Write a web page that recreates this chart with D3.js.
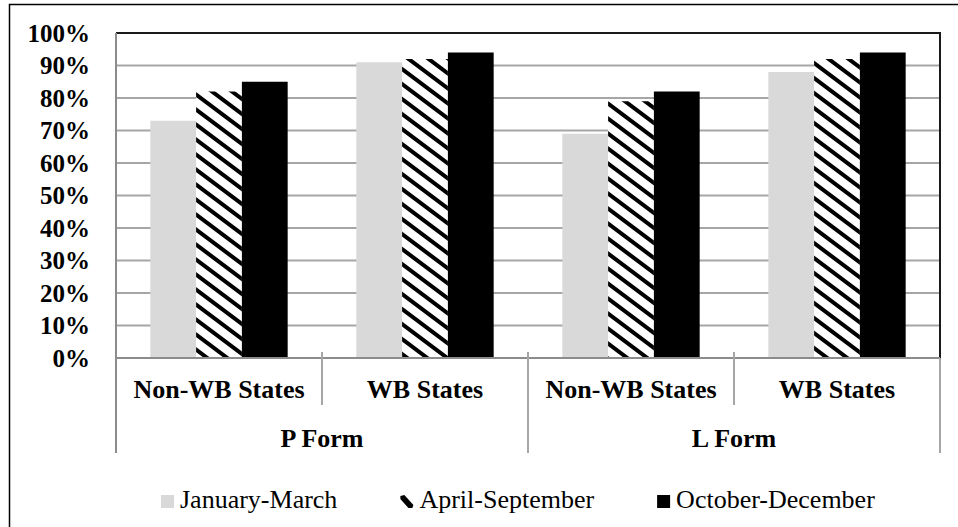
<!DOCTYPE html>
<html>
<head>
<meta charset="utf-8">
<script src="https://cdn.jsdelivr.net/npm/d3@7"></script>
<style>
  html, body { margin: 0; padding: 0; background: #fff; }
  svg { display: block; }
</style>
</head>
<body>
<svg id="chart" width="958" height="527"></svg>
<script>
// Share of forms by period, per form type and state group
const groups = ["P Form", "L Form"];
const subgroups = ["Non-WB States", "WB States"];
const periods = ["January-March", "April-September", "October-December"];
const janMar = [73, 91, 69, 88];
const aprSep = [82, 92, 79, 92];
const octDec = [85, 94, 82, 94];
const yTicks = [0, 10, 20, 30, 40, 50, 60, 70, 80, 90, 100];

const FONT = "'Liberation Serif', 'Times New Roman', 'DejaVu Serif', serif";

const seriesValues = [janMar, aprSep, octDec];
const categories = [];
groups.forEach(g => subgroups.forEach(s => categories.push({ group: g, sub: s, key: g + "|" + s })));

const svg = d3.select("#chart").attr("font-family", FONT);
const W = 958, H = 527;
const plot = { left: 116, right: 940, top: 33, bottom: 358 };
const axisBottom = 453;

// Outer chart frame (extends past the right and bottom edges)
svg.append("rect")
  .attr("x", 9.5).attr("y", 4.5)
  .attr("width", W + 20).attr("height", H + 20)
  .attr("fill", "#fff").attr("stroke", "#000").attr("stroke-width", 1.5);

// Fill pattern: wide downward diagonal stripes
const defs = svg.append("defs");
const hatch = defs.append("pattern")
  .attr("id", "hatch").attr("patternUnits", "userSpaceOnUse")
  .attr("x", 196).attr("y", 92)
  .attr("width", 20).attr("height", 15);
hatch.append("rect").attr("width", 20).attr("height", 15).attr("fill", "#fff");
hatch.append("path")
  .attr("d", "M0,0 L20,15 L20,20 L0,5 Z M0,-15 L20,0 L20,5 L0,-10 Z")
  .attr("fill", "#000");

const fills = ["#d9d9d9", "url(#hatch)", "#000"];

// Scales
const x0 = d3.scaleBand().domain(categories.map(c => c.key))
  .range([plot.left, plot.right]).paddingInner(0).paddingOuter(0);
const x1 = d3.scaleBand().domain(periods)
  .range([0, x0.bandwidth()]).paddingInner(0).paddingOuter(0.75);
const y = d3.scaleLinear().domain([0, 100]).range([plot.bottom, plot.top]);

// Gridlines
svg.append("g").selectAll("line").data(yTicks.filter(t => t > 0 && t < 100)).join("line")
  .attr("x1", plot.left).attr("x2", plot.right)
  .attr("y1", d => y(d)).attr("y2", d => y(d))
  .attr("stroke", "#a6a6a6").attr("stroke-width", 2);

// Plot area border (top and right)
svg.append("path")
  .attr("d", `M${plot.left},${y(100)} H${plot.right} V${plot.bottom}`)
  .attr("fill", "none").attr("stroke", "#1a1a1a").attr("stroke-width", 2);

// Bars
periods.forEach((p, si) => {
  svg.append("g").selectAll("rect").data(categories).join("rect")
    .attr("x", c => x0(c.key) + x1(p))
    .attr("width", x1.bandwidth())
    .attr("y", (c, i) => y(seriesValues[si][i]))
    .attr("height", (c, i) => y(0) - y(seriesValues[si][i]))
    .attr("fill", fills[si]);
});

// Value axis
const yAxis = svg.append("g");
yAxis.append("line")
  .attr("x1", plot.left).attr("x2", plot.left)
  .attr("y1", plot.top).attr("y2", axisBottom)
  .attr("stroke", "#8c8c8c").attr("stroke-width", 2);
yAxis.selectAll("text").data(yTicks).join("text")
  .attr("x", 90).attr("y", d => y(d)).attr("dy", "0.34em")
  .attr("text-anchor", "end")
  .attr("font-family", FONT).attr("font-weight", "bold").attr("font-size", 25)
  .text(d => d + "%");

// Category axis (two levels)
const xAxis = svg.append("g");
xAxis.append("line")
  .attr("x1", plot.left).attr("x2", plot.right)
  .attr("y1", plot.bottom).attr("y2", plot.bottom)
  .attr("stroke", "#8c8c8c").attr("stroke-width", 2);

const groupEdges = groups.map(g => {
  const keys = categories.filter(c => c.group === g).map(c => c.key);
  return { group: g, start: x0(keys[0]), end: x0(keys[keys.length - 1]) + x0.bandwidth() };
});

// Separators between sub-categories inside each group
const innerSeps = groupEdges.map(e => (e.start + e.end) / 2);
xAxis.selectAll("line.inner").data(innerSeps).join("line").attr("class", "inner")
  .attr("x1", d => d).attr("x2", d => d)
  .attr("y1", plot.bottom - 6).attr("y2", 405)
  .attr("stroke", "#a6a6a6").attr("stroke-width", 2);

// Separators between groups and at the right end
xAxis.selectAll("line.mid").data([groupEdges[0].end]).join("line").attr("class", "mid")
  .attr("x1", d => d).attr("x2", d => d)
  .attr("y1", plot.bottom - 6).attr("y2", axisBottom)
  .attr("stroke", "#a6a6a6").attr("stroke-width", 2);
xAxis.append("line")
  .attr("x1", plot.right).attr("x2", plot.right)
  .attr("y1", plot.bottom).attr("y2", axisBottom)
  .attr("stroke", "#a6a6a6").attr("stroke-width", 2);

xAxis.selectAll("text.sub").data(categories).join("text").attr("class", "sub")
  .attr("x", c => x0(c.key) + x0.bandwidth() / 2).attr("y", 398)
  .attr("text-anchor", "middle")
  .attr("font-family", FONT).attr("font-weight", "bold").attr("font-size", 26)
  .text(c => c.sub);

xAxis.selectAll("text.grp").data(groupEdges).join("text").attr("class", "grp")
  .attr("x", e => (e.start + e.end) / 2).attr("y", 447)
  .attr("text-anchor", "middle")
  .attr("font-family", FONT).attr("font-weight", "bold").attr("font-size", 26)
  .text(e => e.group);

// Legend
const legend = svg.append("g");
let lx = 161;
periods.forEach((p, i) => {
  const item = legend.append("g");
  if (i === 1) {
    // Striped key: one thick downward stroke
    item.append("path")
      .attr("d", `M${lx},${496} L${lx + 4},${495} L${lx + 13},${505} L${lx + 12},${508} L${lx + 8},${508} L${lx},${499} Z`)
      .attr("fill", "#000");
  } else {
    item.append("rect")
      .attr("x", lx).attr("y", 495).attr("width", 13).attr("height", 13)
      .attr("fill", fills[i]);
  }
  const t = item.append("text")
    .attr("x", lx + 19).attr("y", 508)
    .attr("font-family", FONT).attr("font-size", 26)
    .text(p);
  lx = lx + 19 + t.node().getComputedTextLength() + 63;
});
</script>
</body>
</html>
